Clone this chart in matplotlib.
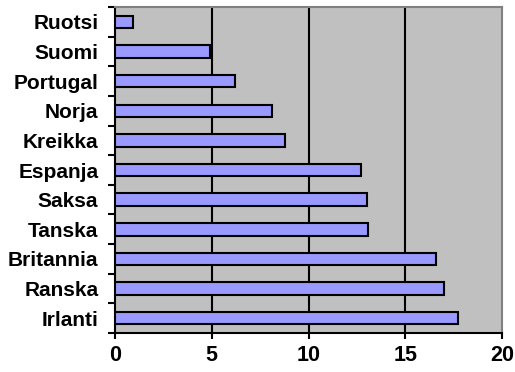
import matplotlib
matplotlib.use("Agg")
import matplotlib.pyplot as plt
import numpy as np

countries = ["Irlanti", "Ranska", "Britannia", "Tanska", "Saksa", "Espanja",
             "Kreikka", "Norja", "Portugal", "Suomi", "Ruotsi"]
values = [17.7, 17.0, 16.6, 13.1, 13.0, 12.7, 8.8, 8.1, 6.2, 4.9, 0.95]
xticks = [0, 5, 10, 15, 20]

plt.rcParams["font.family"] = ["Liberation Sans", "DejaVu Sans"]
plt.rcParams["font.weight"] = "bold"

fig = plt.figure(figsize=(5.15, 3.72), dpi=100)
ax = fig.add_axes([0.2233, 0.1048, 0.7515, 0.8764])
ax.set_facecolor("#C0C0C0")

pos = np.arange(len(countries))
ax.barh(pos, values, height=0.42, color="#9999FF", edgecolor="black",
        linewidth=1.5, zorder=3)

ax.set_xlim(0, 20)
ax.set_ylim(-0.5, len(countries) - 0.5)
ax.set_xticks(xticks)
ax.set_xticklabels([str(t) for t in xticks], fontsize=15.5, fontweight="bold")

# category labels centred on bars, tick marks on the category boundaries
ax.set_yticks(pos)
ax.set_yticklabels(countries, fontsize=15, fontweight="bold")
ax.tick_params(axis="y", which="major", length=0, pad=12)
ax.set_yticks(np.arange(-0.5, len(countries), 1.0), minor=True)
ax.tick_params(axis="y", which="minor", length=5, width=1.5, direction="out")
ax.tick_params(axis="x", length=4.5, width=1.5, direction="out", pad=4)

for v in xticks[1:-1]:
    ax.axvline(v, color="black", linewidth=1.5, zorder=2)

for side in ("left", "bottom"):
    ax.spines[side].set_color("black")
    ax.spines[side].set_linewidth(1.5)
for side in ("top", "right"):
    ax.spines[side].set_color("#808080")
    ax.spines[side].set_linewidth(1.5)

fig.savefig("out.png", dpi=100, facecolor="white")
